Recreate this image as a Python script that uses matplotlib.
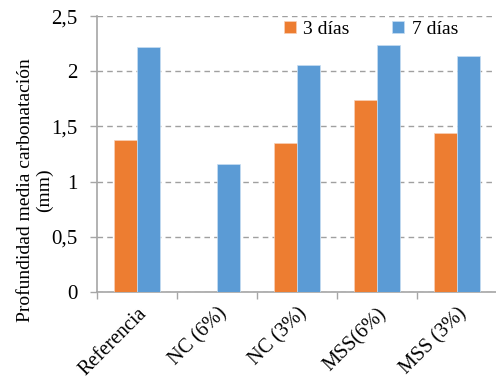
import numpy as np
import matplotlib
matplotlib.use("Agg")
import matplotlib.pyplot as plt

categorias = ["Referencia", "NC (6%)", "NC (3%)", "MSS(6%)", "MSS (3%)"]
dias_3 = [1.38, 0.0, 1.35, 1.74, 1.44]
dias_7 = [2.22, 1.16, 2.06, 2.24, 2.14]
y_ticks = [0, 0.5, 1, 1.5, 2, 2.5]
y_labels = ["0", "0,5", "1", "1,5", "2", "2,5"]

plt.rcParams['font.family'] = ['Liberation Serif', 'DejaVu Serif']

fig = plt.figure(figsize=(4.96, 3.83), dpi=100)
ax = fig.add_axes([0.196, 0.238, 0.806, 0.72])

x = np.arange(len(categorias))
w = 0.284
gris = '#a6a6a6'

ax.bar(x - w/2, dias_3, w, color='#ED7D31', edgecolor='#f8d0b8', linewidth=0.5, label='3 días', zorder=3)
ax.bar(x + w/2, dias_7, w, color='#5B9BD5', edgecolor='#c8def2', linewidth=0.5, label='7 días', zorder=3)

ax.set_xlim(-0.5, len(categorias) - 0.5)
ax.set_ylim(0, 2.5)
ax.set_yticks(y_ticks, y_labels, fontsize=15)
ax.yaxis.grid(True, linestyle=(0, (4, 3)), color='#a0a0a0', linewidth=1.0, zorder=0)

# category boundaries carry the tick marks, names sit at the centres
ax.set_xticks(np.arange(len(categorias) + 1) - 0.5)
ax.set_xticklabels([])
ax.set_xticks(x, minor=True)
ax.set_xticklabels(categorias, minor=True, rotation=45, ha='right', va='top',
                   rotation_mode='anchor', fontsize=14.5)
ax.tick_params(axis='x', which='minor', length=0, pad=9)
ax.tick_params(axis='x', which='major', length=5, color=gris, width=1)
ax.tick_params(axis='y', length=5, color=gris, width=1, pad=9)

for s in ['top', 'right']:
    ax.spines[s].set_visible(False)
for s in ['left', 'bottom']:
    ax.spines[s].set_color(gris)
    ax.spines[s].set_linewidth(1.2)

ax.set_ylabel('Profundidad media carbonatación\n(mm)', fontsize=14, linespacing=1.15)
ax.yaxis.set_label_coords(-0.11, 0.37)

ax.legend(loc='center', bbox_to_anchor=(0.685, 0.953), ncol=2, frameon=False,
          fontsize=14, handlelength=0.6, handleheight=0.6, handletextpad=0.4,
          columnspacing=2.2)

fig.savefig('out.png', dpi=100)
